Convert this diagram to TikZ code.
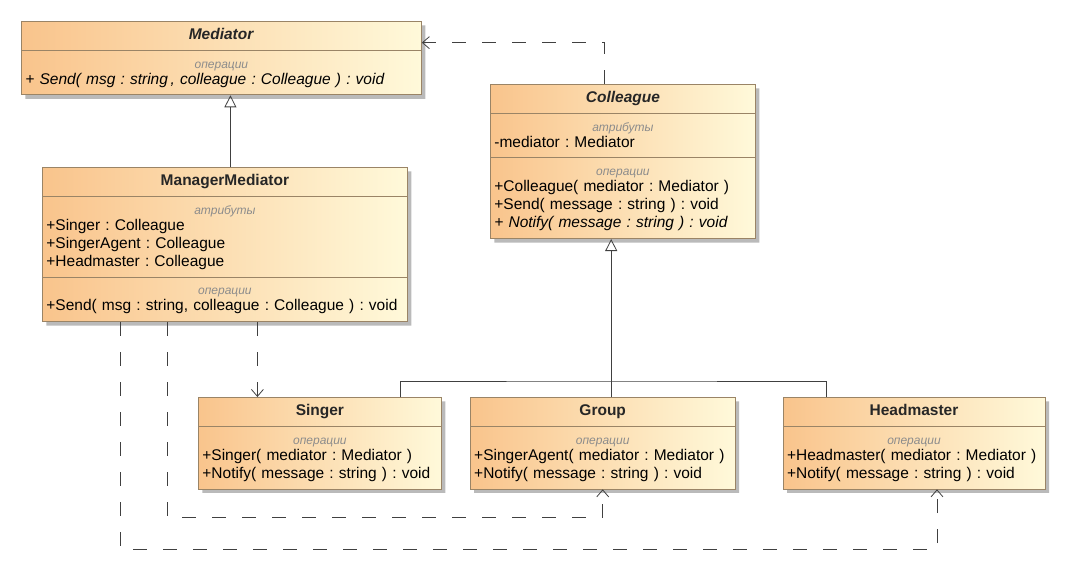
\documentclass[tikz,border=0pt]{standalone}
\usepackage{fontspec}
\setmainfont{Liberation Sans}
\frenchspacing
\usetikzlibrary{arrows.meta, positioning, shapes.multipart, shadows}
\definecolor{umlorange}{HTML}{F9C48C}
\definecolor{umlcream}{HTML}{FFF9DA}
\definecolor{umlborder}{HTML}{9A8466}
\definecolor{umlline}{HTML}{404040}
\definecolor{umlgray}{HTML}{8C8C8C}
\newcommand{\clsname}[1]{\makebox[\hsize]{\strut\textbf{#1}}}
\newcommand{\compart}[1]{\makebox[\hsize]{\rule{0pt}{12.5pt}\fontsize{12}{14}\selectfont\itshape\color{umlgray}#1}\\[-2pt]}
\tikzset{
  cls/.style={rectangle split, rectangle split parts=#1, draw=umlborder, line width=0.8pt,
              left color=umlorange, right color=umlcream,
              drop shadow={shadow xshift=4pt, shadow yshift=-4pt, fill=black!45, opacity=0.6},
              inner xsep=4pt, inner ysep=5pt, align=left, anchor=north west,
              font=\fontsize{15.5}{18}\selectfont, text=black!85},
  gen/.style={-{Triangle[open, length=12pt, width=12pt]}, line width=0.8pt, umlline},
  dep/.style={-{Straight Barb[length=7pt, width=12pt]}, line width=0.8pt, umlline,
              dash pattern=on 14pt off 16pt},
  tree/.style={line width=0.8pt, umlline},
}
\begin{document}
\begin{tikzpicture}[x=1pt, y=-1pt]
  \useasboundingbox (0,0) rectangle (1069,583);
  % abstract classes
  \node[cls=2, text width=392pt] (mediator) at (21,21)
    {\clsname{\textit{Mediator}}
     \nodepart{two}\compart{операции}\textit{+ Send( msg : string\,, colleague : Colleague ) : void}\strut};
  \node[cls=3, text width=257pt] (colleague) at (490,84)
    {\clsname{\textit{Colleague}}
     \nodepart{two}\compart{атрибуты}-mediator : Mediator\strut
     \nodepart{three}\compart{операции}+Colleague( mediator : Mediator )\\
       +Send( message : string ) : void\\
       \textit{+ Notify( message : string ) : void}\strut};
  \node[cls=3, text width=357pt] (manager) at (42,167)
    {\clsname{ManagerMediator}
     \nodepart{two}\compart{атрибуты}+Singer : Colleague\\
       +SingerAgent : Colleague\\
       +Headmaster : Colleague\strut
     \nodepart{three}\compart{операции}+Send( msg : string, colleague : Colleague ) : void\strut};
  % concrete colleagues
  \node[cls=2, text width=235pt] (singer) at (198,397)
    {\clsname{Singer}
     \nodepart{two}\compart{операции}+Singer( mediator : Mediator )\\
       +Notify( message : string ) : void\strut};
  \node[cls=2, text width=257pt, right=28pt of singer.north east, anchor=north west] (group)
    {\clsname{Group}
     \nodepart{two}\compart{операции}+SingerAgent( mediator : Mediator )\\
       +Notify( message : string ) : void\strut};
  \node[cls=2, text width=254pt, right=47pt of group.north east, anchor=north west] (headmaster)
    {\clsname{Headmaster}
     \nodepart{two}\compart{операции}+Headmaster( mediator : Mediator )\\
       +Notify( message : string ) : void\strut};
  % generalizations
  \draw[gen] ([xshift=5.5pt]manager.north) -- ([xshift=5.5pt]manager.north |- mediator.south);
  \coordinate (fork) at (610,381);
  \draw[gen] ([xshift=8.5pt]group.north) -- ([xshift=8.5pt]group.north |- colleague.south);
  \draw[tree] ([xshift=80.5pt]singer.north) |- (fork) -| ([xshift=-88pt]headmaster.north);
  % dependencies
  \draw[dep] ([xshift=-18.5pt]colleague.north) |- ([yshift=15.5pt]mediator.east);
  \draw[dep] ([xshift=32.5pt]manager.south) -- ([xshift=32.5pt]manager.south |- singer.north);
  \draw[dep] ([xshift=-57.5pt]manager.south) |- ([yshift=-28pt]group.south) -- (group.south);
  \draw[dep] ([xshift=-104.5pt]manager.south) |- ([xshift=23pt, yshift=-60pt]headmaster.south)
    -- ([xshift=23pt]headmaster.south);
\end{tikzpicture}
\end{document}
